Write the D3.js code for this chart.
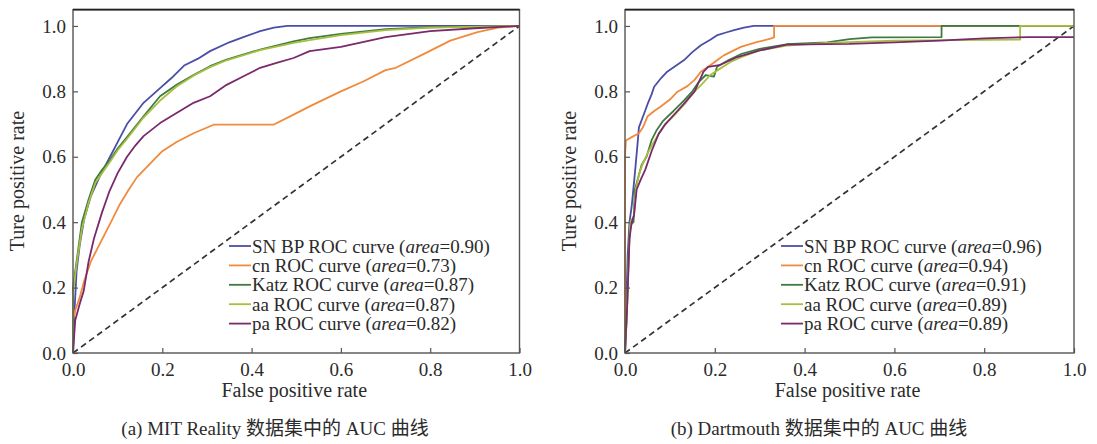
<!DOCTYPE html>
<html>
<head>
<meta charset="utf-8">
<script src="https://cdn.jsdelivr.net/npm/d3@7/dist/d3.min.js"></script>
<style>
  body { margin: 0; background: #fff; }
  text { font-family: "Liberation Serif", "Noto Sans CJK SC", serif; fill: #2b2b2b; }
</style>
</head>
<body>
<div id="chart"></div>
<script>
// 刻度
const ticks = [0, 0.2, 0.4, 0.6, 0.8, 1.0];
const tickLabels = ["0.0", "0.2", "0.4", "0.6", "0.8", "1.0"];

const methods = ["SN BP", "cn", "Katz", "aa", "pa"];
const colors = ["#4a4ea6", "#f08a3c", "#3d7b43", "#a8bf3e", "#7a2a6c"];

const mitAreas = ["0.90", "0.73", "0.87", "0.87", "0.82"];
const dartAreas = ["0.96", "0.94", "0.91", "0.89", "0.89"];

const captions = ["(a) MIT Reality 数据集中的 AUC 曲线", "(b) Dartmouth 数据集中的 AUC 曲线"];

// MIT Reality
const mitSnbp = [[0,0],[0.003,0.12],[0.008,0.25],[0.015,0.33],[0.025,0.41],[0.04,0.48],[0.06,0.54],[0.083,0.6],[0.1,0.645],[0.121,0.7],[0.158,0.765],[0.195,0.81],[0.22,0.84],[0.25,0.88],[0.28,0.9],[0.307,0.923],[0.35,0.95],[0.38,0.965],[0.419,0.984],[0.45,0.995],[0.48,1.0],[1,1]];
const mitCn = [[0,0],[0,0.1],[0.005,0.13],[0.015,0.17],[0.025,0.22],[0.04,0.28],[0.066,0.35],[0.085,0.4],[0.105,0.455],[0.125,0.5],[0.143,0.537],[0.17,0.575],[0.2,0.617],[0.232,0.645],[0.27,0.672],[0.315,0.698],[0.449,0.698],[0.494,0.729],[0.53,0.754],[0.6,0.8],[0.65,0.83],[0.7,0.865],[0.723,0.872],[0.784,0.913],[0.845,0.955],[0.906,0.981],[0.952,0.995],[1,1]];
const mitKatz = [[0,0],[0,0.2],[0.005,0.25],[0.01,0.3],[0.02,0.4],[0.035,0.47],[0.05,0.53],[0.065,0.56],[0.083,0.59],[0.1,0.625],[0.121,0.66],[0.158,0.724],[0.195,0.785],[0.232,0.82],[0.27,0.85],[0.307,0.877],[0.344,0.897],[0.419,0.928],[0.494,0.953],[0.53,0.963],[0.6,0.976],[0.7,0.99],[0.8,0.996],[1,1]];
const mitAa = [[0,0],[0,0.18],[0.005,0.24],[0.01,0.29],[0.02,0.38],[0.035,0.46],[0.05,0.52],[0.065,0.55],[0.083,0.585],[0.1,0.62],[0.121,0.655],[0.158,0.72],[0.195,0.772],[0.232,0.815],[0.27,0.848],[0.307,0.874],[0.344,0.895],[0.419,0.926],[0.494,0.948],[0.53,0.957],[0.6,0.972],[0.7,0.987],[0.8,0.995],[1,1]];
const mitPa = [[0,0],[0.005,0.1],[0.015,0.15],[0.024,0.19],[0.035,0.28],[0.047,0.35],[0.065,0.43],[0.082,0.496],[0.1,0.55],[0.121,0.6],[0.14,0.635],[0.158,0.663],[0.195,0.703],[0.232,0.734],[0.27,0.765],[0.307,0.785],[0.344,0.82],[0.382,0.846],[0.419,0.872],[0.456,0.887],[0.494,0.902],[0.53,0.923],[0.6,0.936],[0.7,0.966],[0.8,0.984],[0.9,0.993],[1,1]];

// Dartmouth
const dartSnbp = [[0,0],[0.003,0.15],[0.006,0.3],[0.01,0.4],[0.015,0.45],[0.02,0.52],[0.024,0.58],[0.028,0.64],[0.031,0.69],[0.042,0.73],[0.05,0.76],[0.059,0.79],[0.065,0.814],[0.08,0.84],[0.094,0.86],[0.11,0.875],[0.131,0.895],[0.15,0.92],[0.169,0.941],[0.19,0.958],[0.206,0.972],[0.225,0.98],[0.243,0.987],[0.265,0.995],[0.287,1.0],[1,1]];
const dartCn = [[0,0],[0,0.6],[0.002,0.65],[0.015,0.66],[0.031,0.672],[0.04,0.69],[0.05,0.723],[0.065,0.74],[0.079,0.753],[0.1,0.775],[0.117,0.799],[0.139,0.816],[0.155,0.835],[0.169,0.86],[0.19,0.88],[0.205,0.895],[0.22,0.91],[0.258,0.936],[0.295,0.951],[0.324,0.961],[0.332,0.965],[0.332,1.0],[1,1]];
const dartKatz = [[0,0],[0.004,0.11],[0.008,0.3],[0.011,0.39],[0.019,0.4],[0.022,0.5],[0.03,0.54],[0.037,0.575],[0.048,0.6],[0.059,0.65],[0.07,0.68],[0.085,0.71],[0.108,0.74],[0.13,0.77],[0.15,0.8],[0.165,0.83],[0.18,0.85],[0.198,0.845],[0.205,0.875],[0.23,0.895],[0.26,0.915],[0.3,0.93],[0.36,0.944],[0.45,0.95],[0.5,0.96],[0.55,0.965],[0.705,0.966],[0.705,1.0],[1,1]];
const dartAa = [[0,0],[0.004,0.12],[0.009,0.32],[0.012,0.4],[0.02,0.42],[0.024,0.5],[0.032,0.55],[0.04,0.58],[0.05,0.61],[0.062,0.64],[0.075,0.67],[0.09,0.7],[0.112,0.73],[0.135,0.765],[0.155,0.8],[0.17,0.82],[0.19,0.85],[0.21,0.868],[0.235,0.89],[0.26,0.905],[0.3,0.925],[0.36,0.94],[0.45,0.948],[0.6,0.955],[0.88,0.958],[0.88,1.0],[1,1]];
const dartPa = [[0,0],[0.005,0.15],[0.01,0.35],[0.015,0.4],[0.02,0.42],[0.026,0.5],[0.035,0.53],[0.045,0.56],[0.06,0.62],[0.075,0.67],[0.09,0.7],[0.11,0.73],[0.13,0.76],[0.155,0.8],[0.175,0.86],[0.185,0.875],[0.21,0.88],[0.25,0.905],[0.3,0.925],[0.36,0.943],[0.5,0.945],[0.6,0.95],[0.7,0.955],[0.8,0.962],[0.9,0.966],[1,0.966]];

const W = 1097, H = 444;
const svg = d3.select("#chart").append("svg")
    .attr("width", W)
    .attr("height", H);
svg.append("rect").attr("width", W).attr("height", H).attr("fill", "#fff");

const panels = [
    { left: 73, right: 519.5, series: [mitSnbp, mitCn, mitKatz, mitAa, mitPa], areas: mitAreas, caption: captions[0], legendX: 229, capX: 275 },
    { left: 625, right: 1074, series: [dartSnbp, dartCn, dartKatz, dartAa, dartPa], areas: dartAreas, caption: captions[1], legendX: 781, capX: 819 }
];

const plotBottom = 353, plotTop = 9.6;

panels.forEach(p => {
    const x = d3.scaleLinear().domain([0, 1]).range([p.left, p.right]);
    const y = d3.scaleLinear().domain([0, 1.05]).range([plotBottom, plotTop]);
    const g = svg.append("g");

    // 对角线
    g.append("line")
        .attr("x1", x(0)).attr("y1", y(0))
        .attr("x2", x(1)).attr("y2", y(1))
        .attr("stroke", "#333")
        .attr("stroke-width", 1.7)
        .attr("stroke-dasharray", "6,4");

    const line = d3.line().x(d => x(d[0])).y(d => y(d[1]));
    p.series.forEach((s, i) => {
        g.append("path")
            .datum(s)
            .attr("d", line)
            .attr("fill", "none")
            .attr("stroke", colors[i])
            .attr("stroke-width", 1.8)
            .attr("stroke-linejoin", "round");
    });

    // 坐标轴（刻度朝内）
    const xAxis = g.append("g")
        .attr("transform", `translate(0,${plotBottom})`)
        .call(d3.axisBottom(x).tickValues(ticks).tickFormat((d, i) => tickLabels[i]).tickSize(-5).tickPadding(10));
    const yAxis = g.append("g")
        .attr("transform", `translate(${p.left},0)`)
        .call(d3.axisLeft(y).tickValues(ticks).tickFormat((d, i) => tickLabels[i]).tickSize(-5).tickPadding(7));
    [xAxis, yAxis].forEach(a => {
        a.select(".domain").remove();
        a.selectAll(".tick line").attr("stroke", "#555").attr("stroke-width", 1.2);
        a.selectAll(".tick text").attr("font-size", 19).attr("fill", "#2b2b2b")
            .style("font-family", "'Liberation Serif', serif");
    });
    yAxis.selectAll(".tick text").attr("dy", "0.32em");

    // 边框
    g.append("rect")
        .attr("x", p.left).attr("y", plotTop)
        .attr("width", p.right - p.left).attr("height", plotBottom - plotTop)
        .attr("fill", "none")
        .attr("stroke", "#555")
        .attr("stroke-width", 1.4);
    g.append("line")
        .attr("x1", p.left).attr("x2", p.right)
        .attr("y1", plotTop).attr("y2", plotTop)
        .attr("stroke", "#222").attr("stroke-width", 1.6);

    // 图例
    methods.forEach((m, i) => {
        const ly = 246 + i * 19.4;
        g.append("line")
            .attr("x1", p.legendX).attr("x2", p.legendX + 22)
            .attr("y1", ly).attr("y2", ly)
            .attr("stroke", colors[i]).attr("stroke-width", 1.8);
        const t = g.append("text")
            .attr("x", p.legendX + 23).attr("y", ly + 6.5)
            .attr("font-size", 19);
        t.append("tspan").text(`${m} ROC curve (`);
        t.append("tspan").attr("font-style", "italic").text("area");
        t.append("tspan").text(`=${p.areas[i]})`);
    });

    // 轴标题
    g.append("text")
        .attr("x", (p.left + p.right) / 2 - 2).attr("y", 397)
        .attr("text-anchor", "middle")
        .attr("font-size", 20)
        .text("False positive rate");
    g.append("text")
        .attr("transform", `translate(${p.left - 49},181) rotate(-90)`)
        .attr("text-anchor", "middle")
        .attr("font-size", 20)
        .text("Ture positive rate");

    g.append("text")
        .attr("x", p.capX).attr("y", 435)
        .attr("text-anchor", "middle")
        .attr("font-size", 19)
        .text(p.caption);
});
</script>
</body>
</html>
